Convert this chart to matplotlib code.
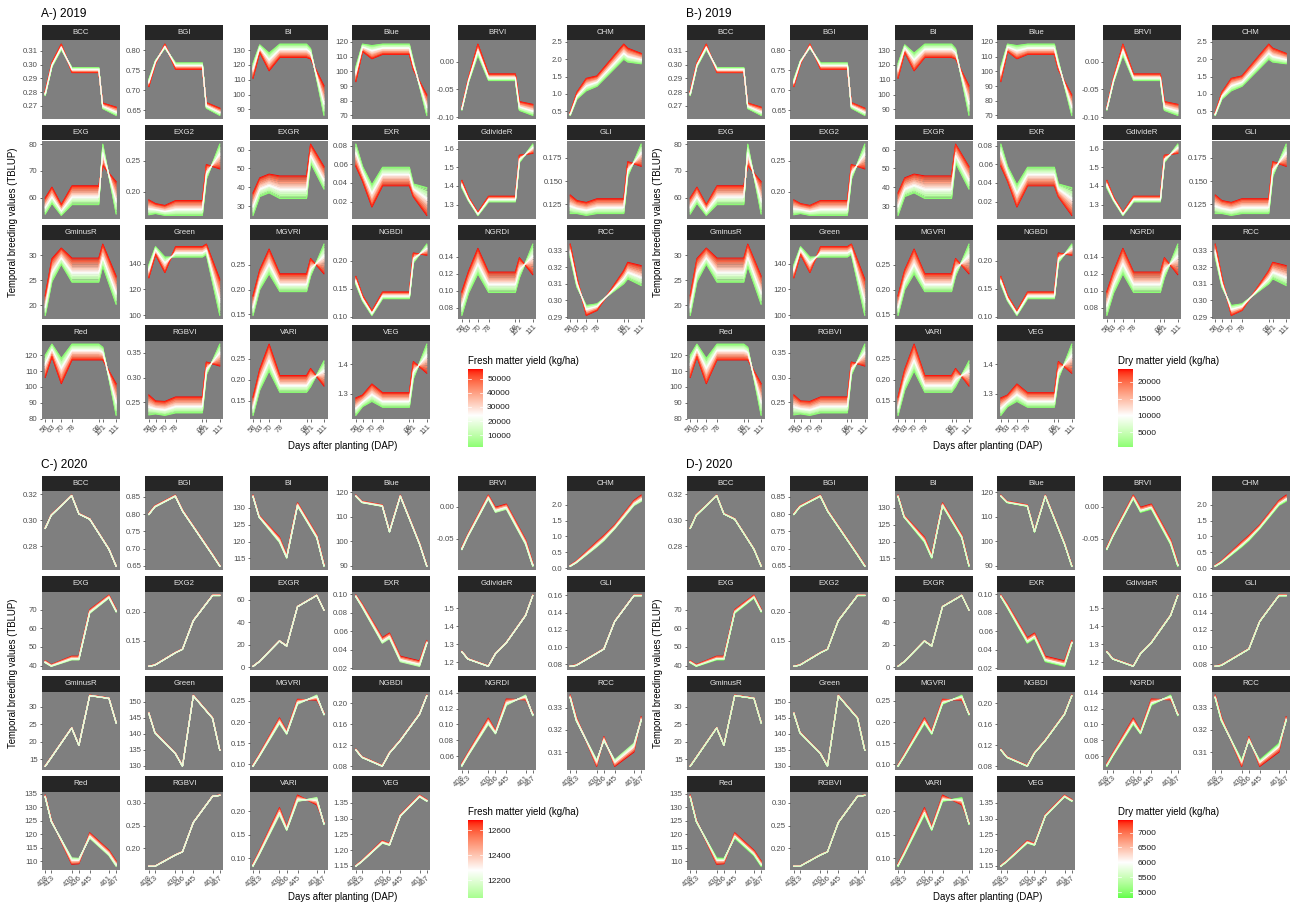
import numpy as np
import matplotlib
matplotlib.use("Agg")
import matplotlib.pyplot as plt
from matplotlib.colors import ListedColormap, Normalize

plt.rcParams["font.family"] = ["Liberation Sans", "DejaVu Sans"]
plt.rcParams["axes.unicode_minus"] = False

# ---------------------------------------------------------------- data
INDICES = ["BCC", "BGI", "BI", "Blue", "BRVI", "CHM",
           "EXG", "EXG2", "EXGR", "EXR", "GdivideR", "GLI",
           "GminusR", "Green", "MGVRI", "NGBDI", "NGRDI", "RCC",
           "Red", "RGBVI", "VARI", "VEG"]

DAP_2019 = [58, 63, 70, 78, 98, 101, 111]
DAP_2020 = [408, 413, 430, 436, 445, 461, 467]

# centre of the bundle of genotype curves at each DAP
MID_2019 = {
    "BCC":      [0.279, 0.300, 0.313, 0.296, 0.296, 0.270, 0.266],
    "BGI":      [0.718, 0.770, 0.810, 0.760, 0.760, 0.662, 0.646],
    "BI":       [116, 131, 122, 129.5, 129.5, 127.5, 96],
    "Blue":     [98, 116, 113, 115, 115, 104, 77],
    "BRVI":     [-0.085, -0.033, 0.022, -0.028, -0.028, -0.080, -0.087],
    "CHM":      [0.42, 0.95, 1.27, 1.37, 2.22, 2.12, 2.02],
    "EXG":      [57, 61, 55.5, 61, 61, 76, 60],
    "EXG2":     [0.175, 0.173, 0.170, 0.174, 0.174, 0.232, 0.257],
    "EXGR":     [31, 40, 42, 40, 40, 58, 45],
    "EXR":      [0.070, 0.050, 0.026, 0.047, 0.047, 0.032, 0.020],
    "GdivideR": [1.41, 1.33, 1.25, 1.33, 1.33, 1.545, 1.60],
    "GLI":      [0.125, 0.122, 0.120, 0.123, 0.123, 0.163, 0.178],
    "GminusR":  [20, 27, 29.8, 27, 27, 30, 23],
    "Green":    [134, 150, 139, 149, 149, 151, 114],
    "MGVRI":    [0.168, 0.220, 0.257, 0.214, 0.214, 0.245, 0.262],
    "NGBDI":    [0.165, 0.133, 0.106, 0.138, 0.138, 0.205, 0.220],
    "NGRDI":    [0.085, 0.110, 0.135, 0.110, 0.110, 0.127, 0.137],
    "RCC":      [0.330, 0.311, 0.294, 0.296, 0.314, 0.318, 0.315],
    "Red":      [113, 123, 110, 122, 122, 121, 92],
    "RGBVI":    [0.245, 0.240, 0.238, 0.245, 0.245, 0.318, 0.345],
    "VARI":     [0.137, 0.200, 0.253, 0.190, 0.190, 0.205, 0.215],
    "VEG":      [1.255, 1.275, 1.303, 1.278, 1.278, 1.380, 1.420],
}
# half width of the bundle; sign > 0 means high-yield genotypes on top
HALF_2019 = {
    "BCC":      [0.0015, 0.0015, 0.002, -0.0018, -0.0018, 0.002, 0.003],
    "BGI":      [-0.009, -0.004, 0.005, -0.008, -0.008, 0.007, 0.009],
    "BI":       [-5, -2.5, -6, -4.5, -4.5, -3.5, 10],
    "Blue":     [-5, -2.5, -4.5, -3.5, -3.5, -3, 7],
    "BRVI":     [0.002, 0.004, 0.010, 0.006, 0.006, 0.008, 0.010],
    "CHM":      [0.04, 0.10, 0.18, 0.15, 0.22, 0.20, 0.15],
    "EXG":      [3, 3, 2, 3.5, 3.5, -4, 6],
    "EXG2":     [0.012, 0.008, 0.008, 0.012, 0.012, 0.012, -0.020],
    "EXGR":     [6, 5, 5, 6, 6, 5, 6],
    "EXR":      [-0.012, -0.008, -0.012, -0.010, -0.010, -0.007, -0.015],
    "GdivideR": [0.02, 0.01, 0.008, 0.015, 0.015, 0.02, -0.025],
    "GLI":      [0.010, 0.007, 0.007, 0.008, 0.008, 0.008, -0.012],
    "GminusR":  [2, 2.3, 1.6, 2.4, 2.4, 2.2, 2.8],
    "Green":    [-5, -3, -6, 4, 4, 4, 14],
    "MGVRI":    [0.02, 0.02, 0.025, 0.018, 0.018, 0.018, -0.030],
    "NGBDI":    [0.007, 0.005, 0.004, 0.006, 0.006, 0.009, -0.010],
    "NGRDI":    [0.014, 0.013, 0.015, 0.012, 0.012, 0.012, -0.018],
    "RCC":      [0.004, 0.003, -0.003, -0.002, 0.004, 0.005, 0.006],
    "Red":      [-7, -4, -8, -5, -5, -4, 10],
    "RGBVI":    [0.020, 0.013, 0.014, 0.016, 0.016, 0.013, -0.022],
    "VARI":     [0.022, 0.025, 0.032, 0.020, 0.020, 0.022, -0.030],
    "VEG":      [0.03, 0.02, 0.03, 0.025, 0.025, 0.03, -0.05],
}
MID_2020 = {
    "BCC":      [0.294, 0.304, 0.319, 0.305, 0.301, 0.278, 0.265],
    "BGI":      [0.800, 0.822, 0.853, 0.810, 0.764, 0.682, 0.650],
    "BI":       [133.5, 127.5, 120.5, 115.5, 131, 121.5, 113],
    "Blue":     [118.5, 116, 114.5, 104, 118.5, 99, 90],
    "BRVI":     [-0.065, -0.045, 0.015, -0.005, 0.0, -0.055, -0.090],
    "CHM":      [0.08, 0.20, 0.75, 0.95, 1.30, 2.05, 2.20],
    "EXG":      [42, 40, 44, 44, 69, 77, 69.5],
    "EXG2":     [0.107, 0.109, 0.130, 0.136, 0.185, 0.228, 0.228],
    "EXGR":     [1, 5, 23.5, 19, 54, 64, 51],
    "EXR":      [0.098, 0.088, 0.050, 0.055, 0.030, 0.025, 0.048],
    "GdivideR": [1.26, 1.22, 1.18, 1.25, 1.31, 1.46, 1.57],
    "GLI":      [0.078, 0.079, 0.093, 0.098, 0.130, 0.160, 0.160],
    "GminusR":  [13, 15.5, 24, 19, 33.3, 32.5, 25.5],
    "Green":    [146.5, 140.5, 134, 130, 152, 145, 135],
    "MGVRI":    [0.097, 0.120, 0.203, 0.175, 0.248, 0.258, 0.220],
    "NGBDI":    [0.112, 0.098, 0.081, 0.106, 0.130, 0.180, 0.215],
    "NGRDI":    [0.049, 0.062, 0.104, 0.090, 0.128, 0.134, 0.113],
    "RCC":      [0.335, 0.325, 0.305, 0.316, 0.305, 0.312, 0.325],
    "Red":      [134, 125, 110, 110, 119.5, 113, 109],
    "RGBVI":    [0.160, 0.160, 0.185, 0.192, 0.257, 0.315, 0.317],
    "VARI":     [0.085, 0.110, 0.200, 0.163, 0.228, 0.222, 0.175],
    "VEG":      [1.150, 1.165, 1.226, 1.218, 1.310, 1.372, 1.358],
}
HALF_2020 = {
    "BCC":      [0.0003] * 7,
    "BGI":      [0.002] * 7,
    "BI":       [0.3, 0.3, 0.8, 0.5, 0.5, 0.5, 0.4],
    "Blue":     [0.3] * 7,
    "BRVI":     [0.002, 0.002, 0.003, 0.004, 0.004, 0.004, 0.003],
    "CHM":      [0.02, 0.03, 0.08, 0.08, 0.06, 0.08, 0.10],
    "EXG":      [0.6, 0.5, 1.0, 1.0, 1.0, 0.8, 0.8],
    "EXG2":     [0.0005] * 7,
    "EXGR":     [0.2] * 7,
    "EXR":      [0.001, 0.002, 0.003, 0.003, 0.003, 0.003, 0.002],
    "GdivideR": [0.002] * 7,
    "GLI":      [0.0004] * 7,
    "GminusR":  [0.1] * 7,
    "Green":    [0.15] * 7,
    "MGVRI":    [0.002, 0.003, 0.007, 0.004, 0.006, -0.006, 0.003],
    "NGBDI":    [0.001] * 7,
    "NGRDI":    [0.002, 0.002, 0.004, 0.002, 0.004, -0.003, 0.002],
    "RCC":      [0.0008, 0.001, -0.0015, 0.001, -0.0015, -0.002, 0.001],
    "Red":      [0.5, 0.4, -1.2, -1.0, 1.0, 1.0, 1.0],
    "RGBVI":    [0.0005] * 7,
    "VARI":     [0.003, 0.004, 0.008, 0.004, 0.007, -0.008, 0.003],
    "VEG":      [0.002, 0.002, 0.004, 0.003, 0.003, 0.003, 0.003],
}

# y tick spacing of each facet
STEP_2019 = {"BCC": 0.01, "BGI": 0.05, "BI": 10, "Blue": 10, "BRVI": 0.05,
             "CHM": 0.5, "EXG": 10, "EXG2": 0.05, "EXGR": 10, "EXR": 0.02,
             "GdivideR": 0.1, "GLI": 0.025, "GminusR": 5, "Green": 20,
             "MGVRI": 0.05, "NGBDI": 0.05, "NGRDI": 0.02, "RCC": 0.01,
             "Red": 10, "RGBVI": 0.05, "VARI": 0.05, "VEG": 0.1}
STEP_2020 = {"BCC": 0.02, "BGI": 0.05, "BI": 5, "Blue": 10, "BRVI": 0.05,
             "CHM": 0.5, "EXG": 10, "EXG2": 0.05, "EXGR": 20, "EXR": 0.02,
             "GdivideR": 0.1, "GLI": 0.02, "GminusR": 5, "Green": 5,
             "MGVRI": 0.05, "NGBDI": 0.04, "NGRDI": 0.02, "RCC": 0.01,
             "Red": 5, "RGBVI": 0.05, "VARI": 0.05, "VEG": 0.05}

# genotype yields (kg/ha)
FRESH_2019 = [24500, 41000, 9000, 33000, 52000, 15500, 28000, 3000, 46500, 19000,
              36500, 12000, 57000, 22000, 30500, 6000, 39000, 26000, 17000, 49500,
              1500, 34500, 21000, 44000, 10500, 27500, 55000, 14000, 31500, 23500]
DRY_2019 = [10000, 17000, 3800, 13500, 21500, 6300, 11500, 1200, 19000, 7800,
            15200, 5000, 23800, 9100, 12600, 2500, 16000, 10700, 7000, 20500,
            600, 14300, 8600, 18200, 4300, 11300, 22700, 5800, 13000, 9700]
FRESH_2020 = [12310, 12250, 12180, 12420, 12290, 12060, 12350, 12270, 12680, 12230,
              12320, 12140, 12510, 12280, 12300, 12210, 12380, 12260, 12110, 12590,
              12330, 12240, 12460, 12290, 12200]
DRY_2020 = [6050, 5800, 5500, 6600, 6000, 4800, 6200, 5950, 7420, 5700,
            6150, 5300, 6900, 5980, 6080, 5650, 6400, 5900, 5100, 7150,
            6180, 5750, 6750, 6020, 5600]

MIDPOINTS = {"A": 24000, "B": 10000, "C": 12280, "D": 6000}
CBAR_TICKS = {"A": [10000, 20000, 30000, 40000, 50000],
              "B": [5000, 10000, 15000, 20000],
              "C": [12200, 12400, 12600],
              "D": [5000, 5500, 6000, 6500, 7000]}

# ---------------------------------------------------------------- colours
M_RGB2XYZ = np.array([[0.4124, 0.3576, 0.1805],
                      [0.2126, 0.7152, 0.0722],
                      [0.0193, 0.1192, 0.9505]])
WHITE_PT = np.array([0.95047, 1.0, 1.08883])


def srgb_to_lab(rgb):
    c = np.asarray(rgb, float)
    lin = np.where(c <= 0.04045, c / 12.92, ((c + 0.055) / 1.055) ** 2.4)
    xyz = M_RGB2XYZ @ lin / WHITE_PT
    f = np.where(xyz > 0.008856, np.cbrt(xyz), 7.787 * xyz + 16 / 116)
    return np.array([116 * f[1] - 16, 500 * (f[0] - f[1]), 200 * (f[1] - f[2])])


def lab_to_srgb(lab):
    L, a, b = lab
    fy = (L + 16) / 116
    f = np.array([fy + a / 500, fy, fy - b / 200])
    xyz = np.where(f ** 3 > 0.008856, f ** 3, (f - 16 / 116) / 7.787) * WHITE_PT
    lin = np.clip(np.linalg.inv(M_RGB2XYZ) @ xyz, 0, 1)
    c = np.where(lin <= 0.0031308, 12.92 * lin, 1.055 * lin ** (1 / 2.4) - 0.055)
    return np.clip(c, 0, 1)


lab_lo = srgb_to_lab([0, 1, 0])
lab_mid = srgb_to_lab([1, 1, 1])
lab_hi = srgb_to_lab([1, 0, 0])
cols = []
for t in np.linspace(0, 1, 256):
    if t < 0.5:
        lab = lab_lo + (lab_mid - lab_lo) * (t / 0.5)
    else:
        lab = lab_mid + (lab_hi - lab_mid) * ((t - 0.5) / 0.5)
    cols.append(lab_to_srgb(lab))
CMAP = ListedColormap(cols)

# ---------------------------------------------------------------- layout
W, H = 1294, 905
fig = plt.figure(figsize=(W / 100, H / 100), dpi=100)

COL_LEFT = [41.7, 145.3, 249.5, 352.3, 458.3, 566.7]
FACET_W = 78
STRIP_H = 15.5
PLOT_H = 79
ROW_TOP = 25
ROW_PITCH = 100


def px_axes(x, y, w, h):
    return fig.add_axes([x / W, 1 - (y + h) / H, w / W, h / H])


def fmt_tick(v, step):
    s = f"{step:g}"
    d = len(s.split(".")[1]) if "." in s else 0
    if abs(v) < step * 1e-6:
        v = 0.0
    return f"{v:.{d}f}"


def draw_panel(key, ox, oy, title, dap, mids, halves, steps,
               zyield, cyield, cb_title, cb_left):
    zy = np.array(zyield, float)
    z = 2 * (zy - zy.min()) / (zy.max() - zy.min()) - 1
    cy = np.array(cyield, float)
    mid = MIDPOINTS[key]
    d = max(mid - cy.min(), cy.max() - mid)
    norm = Normalize(mid - d, mid + d)
    dap = np.array(dap, float)
    span = dap[-1] - dap[0]

    fig.text((ox + 41) / W, 1 - (oy + 14) / H, title, fontsize=8.6,
             ha="left", va="center")

    for i, name in enumerate(INDICES):
        r, c = divmod(i, 6)
        left = ox + COL_LEFT[c]
        top = oy + ROW_TOP + ROW_PITCH * r

        sax = px_axes(left, top, FACET_W, STRIP_H)
        sax.set_facecolor("#262626")
        sax.set_xticks([])
        sax.set_yticks([])
        for sp in sax.spines.values():
            sp.set_visible(False)
        sax.text(0.5, 0.5, name, color="#E5E5E5", fontsize=5.7,
                 ha="center", va="center", transform=sax.transAxes)

        ax = px_axes(left, top + STRIP_H, FACET_W, PLOT_H - STRIP_H + 15)
        ax.set_facecolor("#7F7F7F")
        for sp in ax.spines.values():
            sp.set_visible(False)
        m = np.array(mids[name], float)
        h = np.array(halves[name], float)
        lo, hi = np.inf, -np.inf
        for k in range(len(z)):
            yv = m + h * z[k]
            lo, hi = min(lo, yv.min()), max(hi, yv.max())
            ax.plot(dap, yv, color=CMAP(norm(cy[k])), lw=0.75,
                    solid_joinstyle="round")
        pad = 0.05 * (hi - lo)
        ax.set_ylim(lo - pad, hi + pad)
        ax.set_xlim(dap[0] - 0.05 * span, dap[-1] + 0.05 * span)

        st = steps[name]
        ticks = np.arange(np.ceil((lo - pad) / st) * st, hi + pad, st)
        ticks = [t for t in ticks if lo - pad <= t <= hi + pad]
        ax.set_yticks(ticks)
        ax.set_yticklabels([fmt_tick(t, st) for t in ticks])
        ax.tick_params(axis="y", labelsize=5.6, labelcolor="#4D4D4D",
                       color="#333333", length=1.8, width=0.5, pad=1.2)

        if r == 3 or (r == 2 and c >= 4):
            ax.set_xticks(dap)
            ax.set_xticklabels([str(int(v)) for v in dap], rotation=45,
                               ha="right", va="top", rotation_mode="anchor")
            ax.tick_params(axis="x", labelsize=5.6, labelcolor="#4D4D4D",
                           color="#333333", length=1.8, width=0.5, pad=1.2)
        else:
            ax.set_xticks([])

    fig.text((ox + 343) / W, 1 - (oy + 446) / H, "Days after planting (DAP)",
             fontsize=6.9, ha="center", va="center")
    fig.text((ox + 13) / W, 1 - (oy + 222) / H,
             "Temporal breeding values (TBLUP)", fontsize=6.9,
             ha="center", va="center", rotation=90)

    # colour bar legend
    vmin, vmax = cy.min(), cy.max()
    cax = px_axes(ox + cb_left, oy + 369, 15, 78)
    vals = np.linspace(vmin, vmax, 300)[:, None]
    cax.imshow(vals, cmap=CMAP, norm=norm, aspect="auto", origin="lower",
               extent=[0, 1, vmin, vmax])
    for t in CBAR_TICKS[key]:
        cax.plot([0, 0.2], [t, t], color="white", lw=0.5)
        cax.plot([0.8, 1], [t, t], color="white", lw=0.5)
    cax.set_xlim(0, 1)
    cax.set_ylim(vmin, vmax)
    cax.set_xticks([])
    cax.yaxis.tick_right()
    cax.set_yticks(CBAR_TICKS[key])
    cax.set_yticklabels([str(t) for t in CBAR_TICKS[key]])
    cax.tick_params(axis="y", length=0, labelsize=6, pad=3, labelcolor="#1A1A1A")
    for sp in cax.spines.values():
        sp.set_visible(False)
    fig.text((ox + cb_left) / W, 1 - (oy + 361) / H, cb_title, fontsize=7,
             ha="left", va="center")


draw_panel("A", 0, 0, "A-) 2019", DAP_2019, MID_2019, HALF_2019, STEP_2019,
           FRESH_2019, FRESH_2019, "Fresh matter yield (kg/ha)", 468)
draw_panel("B", 645, 0, "B-) 2019", DAP_2019, MID_2019, HALF_2019, STEP_2019,
           FRESH_2019, DRY_2019, "Dry matter yield (kg/ha)", 473)
draw_panel("C", 0, 451, "C-) 2020", DAP_2020, MID_2020, HALF_2020, STEP_2020,
           FRESH_2020, FRESH_2020, "Fresh matter yield (kg/ha)", 468)
draw_panel("D", 645, 451, "D-) 2020", DAP_2020, MID_2020, HALF_2020, STEP_2020,
           FRESH_2020, DRY_2020, "Dry matter yield (kg/ha)", 473)

fig.savefig("out.png", dpi=100, facecolor="white")
